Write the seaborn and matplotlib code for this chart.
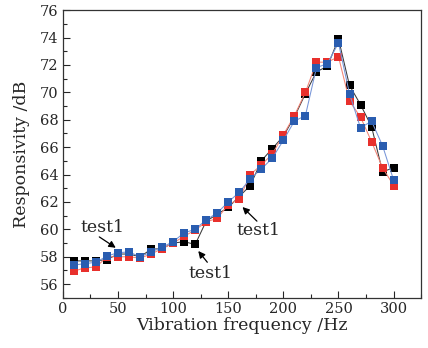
import numpy as np
import pandas as pd
import seaborn as sns
import matplotlib
matplotlib.use("Agg")
import matplotlib.pyplot as plt
from matplotlib.ticker import MultipleLocator

freq = [10, 20, 30, 40, 50, 60, 70, 80, 90, 100, 110, 120, 130, 140, 150,
        160, 170, 180, 190, 200, 210, 220, 230, 240, 250, 260, 270, 280, 290, 300]
black = [57.7, 57.7, 57.7, 57.8, 58.2, 58.2, 58.0, 58.55, 58.6, 59.0, 59.1, 58.9, 60.6, 61.1, 61.6,
         62.4, 63.2, 65.0, 65.9, 66.8, 68.2, 69.9, 71.5, 71.9, 73.9, 70.5, 69.1, 67.5, 64.2, 64.5]
red = [56.95, 57.2, 57.25, 58.0, 58.0, 58.0, 57.9, 58.2, 58.6, 59.0, 59.5, 59.95, 60.55, 60.8, 61.8,
       62.2, 64.0, 64.7, 65.5, 66.9, 68.3, 70.0, 72.2, 72.2, 72.6, 69.35, 68.2, 66.4, 64.5, 63.2]
blue = [57.4, 57.5, 57.6, 58.05, 58.3, 58.35, 58.0, 58.35, 58.7, 59.1, 59.75, 60.0, 60.7, 61.2, 62.0,
        62.7, 63.7, 64.4, 65.2, 66.5, 67.9, 68.3, 71.8, 72.1, 73.6, 69.9, 67.4, 67.9, 66.1, 63.6]
series_names = ["black", "red", "blue"]

sns.set_style("ticks")
plt.rcParams['font.family'] = ['DejaVu Serif']

df = pd.DataFrame({
    "freq": freq * 3,
    "val": black + red + blue,
    "series": [series_names[0]] * len(freq) + [series_names[1]] * len(freq) + [series_names[2]] * len(freq),
})

fig = plt.figure(figsize=(4.28, 3.48), dpi=100)
ax = fig.add_axes([0.147, 0.144, 0.837, 0.827])

line_cols = {"black": "#3a3a3a", "red": "#f28476", "blue": "#7795d8"}
mark_cols = {"black": "#000000", "red": "#e8302c", "blue": "#2a5db0"}
for name in series_names:
    sub = df[df.series == name]
    sns.lineplot(data=sub, x="freq", y="val", ax=ax, color=line_cols[name], lw=0.75,
                 marker="s", markersize=5.6, markerfacecolor=mark_cols[name],
                 markeredgecolor=mark_cols[name], markeredgewidth=0, legend=False)

ax.set_xlim(0, 325)
ax.set_ylim(55, 76)
ax.xaxis.set_major_locator(MultipleLocator(50))
ax.xaxis.set_minor_locator(MultipleLocator(25))
ax.yaxis.set_major_locator(MultipleLocator(2))
ax.yaxis.set_minor_locator(MultipleLocator(1))
ax.tick_params(which="both", direction="in", top=False, right=False, labelsize=10.5, pad=3)
ax.tick_params(which="major", length=5, width=0.8)
ax.tick_params(which="minor", length=3, width=0.8)
for s in ax.spines.values():
    s.set_linewidth(0.9)
    s.set_color("#333333")

ax.set_xlabel("Vibration frequency /Hz", fontsize=12.5, labelpad=1)
ax.set_ylabel("Responsivity /dB", fontsize=12.5, labelpad=7)

arrow = dict(arrowstyle="-|>", color="black", lw=0.9, mutation_scale=10, shrinkA=0, shrinkB=1)
ax.text(36, 60.1, "test1", fontsize=12.5, ha="center", va="center")
ax.annotate("", xy=(49, 58.6), xytext=(33, 59.45), arrowprops=arrow)
ax.text(134, 56.8, "test1", fontsize=12.5, ha="center", va="center")
ax.annotate("", xy=(122, 58.5), xytext=(131, 57.6), arrowprops=arrow)
ax.text(177, 59.9, "test1", fontsize=12.5, ha="center", va="center")
ax.annotate("", xy=(162, 61.7), xytext=(176, 60.6), arrowprops=arrow)

fig.savefig("out.png", dpi=100)
